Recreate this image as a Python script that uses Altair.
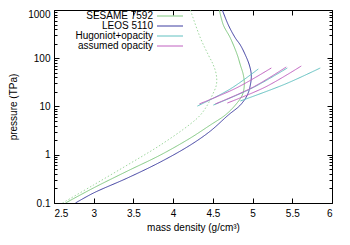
import altair as alt
import pandas as pd

# ---- data (density g/cm^3, pressure TPa) ----
sesame_d = [2.645, 2.997, 3.425, 3.840, 4.217, 4.469, 4.657, 4.783, 4.871, 4.896, 4.884, 4.846, 4.808, 4.720, 4.632, 4.582]
sesame_p = [0.1, 0.205, 0.460, 0.988, 2.22, 4.14, 6.66, 10.7, 17.3, 27.9, 45.0, 72.5, 117, 263, 489, 1000]

leos_d = [2.770, 2.997, 3.425, 3.840, 4.217, 4.469, 4.695, 4.846, 4.934, 4.972, 4.984, 4.959, 4.909, 4.846, 4.783, 4.695, 4.619]
leos_p = [0.1, 0.161, 0.330, 0.708, 1.59, 3.10, 6.66, 10.7, 17.3, 27.9, 45.0, 72.5, 117, 188, 263, 489, 1000]

dotted_d = [2.607, 2.997, 3.425, 3.840, 4.217, 4.343, 4.431, 4.494, 4.544, 4.544, 4.506, 4.443, 4.343, 4.217]
dotted_p = [0.1, 0.236, 0.614, 1.59, 4.34, 6.66, 10.7, 17.3, 27.9, 45.0, 72.5, 117, 263, 1000]

hug1_d = [4.305, 4.720, 5.072]
hug1_p = [10.2, 23.1, 59.9]
hug2_d = [4.506, 4.997, 5.437]
hug2_p = [10.7, 24.2, 62.8]
hug3_d = [4.846, 5.412, 5.852]
hug3_p = [13.0, 29.2, 62.8]

asm1_d = [4.330, 4.796, 5.236]
asm1_p = [11.3, 24.2, 62.8]
asm2_d = [4.531, 5.009, 5.424]
asm2_p = [11.3, 25.3, 65.9]
asm3_d = [4.682, 5.160, 5.613]
asm3_p = [11.8, 25.3, 69.0]

series_names = ["SESAME 7592", "LEOS 5110", "Hugoniot+opacity", "assumed opacity", "SESAME 7592 (alt)"]
series_colors = ["#80c880", "#3c3ca0", "#60c0c0", "#c060c0", "#a0d8a0"]
series_dash = [[1, 0], [1, 0], [1, 0], [1, 0], [1.5, 2]]
legend_names = series_names[:4]

x_ticks = [2.5, 3, 3.5, 4, 4.5, 5, 5.5, 6]
y_ticks = [m * 10.0 ** e for e in range(-1, 3) for m in range(1, 10)] + [1000]

rows = []
def add(series, curve, ds, ps):
    for i, (d, p) in enumerate(zip(ds, ps)):
        rows.append({"series": series, "curve": curve, "d": d, "p": p, "i": i})

add("SESAME 7592", "s", sesame_d, sesame_p)
add("LEOS 5110", "l", leos_d, leos_p)
add("SESAME 7592 (alt)", "sd", dotted_d, dotted_p)
add("Hugoniot+opacity", "h1", hug1_d, hug1_p)
add("assumed opacity", "a1", asm1_d, asm1_p)
add("Hugoniot+opacity", "h2", hug2_d, hug2_p)
add("assumed opacity", "a2", asm2_d, asm2_p)
add("assumed opacity", "a3", asm3_d, asm3_p)
add("Hugoniot+opacity", "h3", hug3_d, hug3_p)
df = pd.DataFrame(rows)

W, H = 278, 193
FONT = "Liberation Sans"

decade_test = "abs(log(datum.value)/LN10 - round(log(datum.value)/LN10)) < 1e-6"

lines = alt.Chart(df).mark_line(clip=True, strokeWidth=1, interpolate="catmull-rom").encode(
    x=alt.X("d:Q",
            scale=alt.Scale(domain=[2.5, 6], nice=False, zero=False),
            axis=alt.Axis(values=x_ticks, format="~g", title="mass density (g/cm³)",
                          grid=True, gridColor="black", gridOpacity=1, gridWidth=1,
                          gridDash=[5, H - 10], ticks=False, domain=False,
                          labelPadding=5, titlePadding=4)),
    y=alt.Y("p:Q",
            scale=alt.Scale(type="log", domain=[0.1, 1000], nice=False),
            axis=alt.Axis(values=y_ticks, title="pressure (TPa)",
                          labelExpr="(" + decade_test + ") ? format(datum.value, '~g') : ''",
                          labelOffset={"condition": {"test": "datum.value > 999", "value": 4}, "value": 0},
                          grid=True, gridColor="black", gridOpacity=1, gridWidth=1,
                          gridDash={"condition": {"test": decade_test, "value": [5, W - 10]},
                                    "value": [3, W - 6]},
                          ticks=False, domain=False, labelPadding=4,
                          titleX=-41, titleY=H / 2, titleBaseline="middle", titleAlign="center")),
    color=alt.Color("series:N", scale=alt.Scale(domain=series_names, range=series_colors), legend=None),
    strokeDash=alt.StrokeDash("series:N", scale=alt.Scale(domain=series_names, range=series_dash), legend=None),
    detail="curve:N",
    order="i:Q",
)

layers = [lines]
for k, name in enumerate(legend_names):
    one = pd.DataFrame({"label": [name]})
    yk = 6 + 10 * k
    layers.append(alt.Chart(one).mark_text(align="right", baseline="middle", font=FONT, fontSize=10, color="black").encode(
        x=alt.value(99), y=alt.value(yk), text="label:N"))
    layers.append(alt.Chart(one).mark_rule(strokeWidth=1, color=series_colors[k]).encode(
        x=alt.value(103), x2=alt.value(129), y=alt.value(yk)))

chart = alt.layer(*layers).properties(
    width=W, height=H,
    padding={"left": 46, "top": 2, "right": 10, "bottom": 30},
    autosize=alt.AutoSizeParams(type="none"),
).configure_view(stroke="black", strokeWidth=1).configure_axis(
    labelFont=FONT, titleFont=FONT, labelFontSize=10, titleFontSize=10,
    labelColor="black", titleColor="black", titleFontWeight="normal",
)

chart.save("out.html", embed_options={"renderer": "svg", "actions": False})
